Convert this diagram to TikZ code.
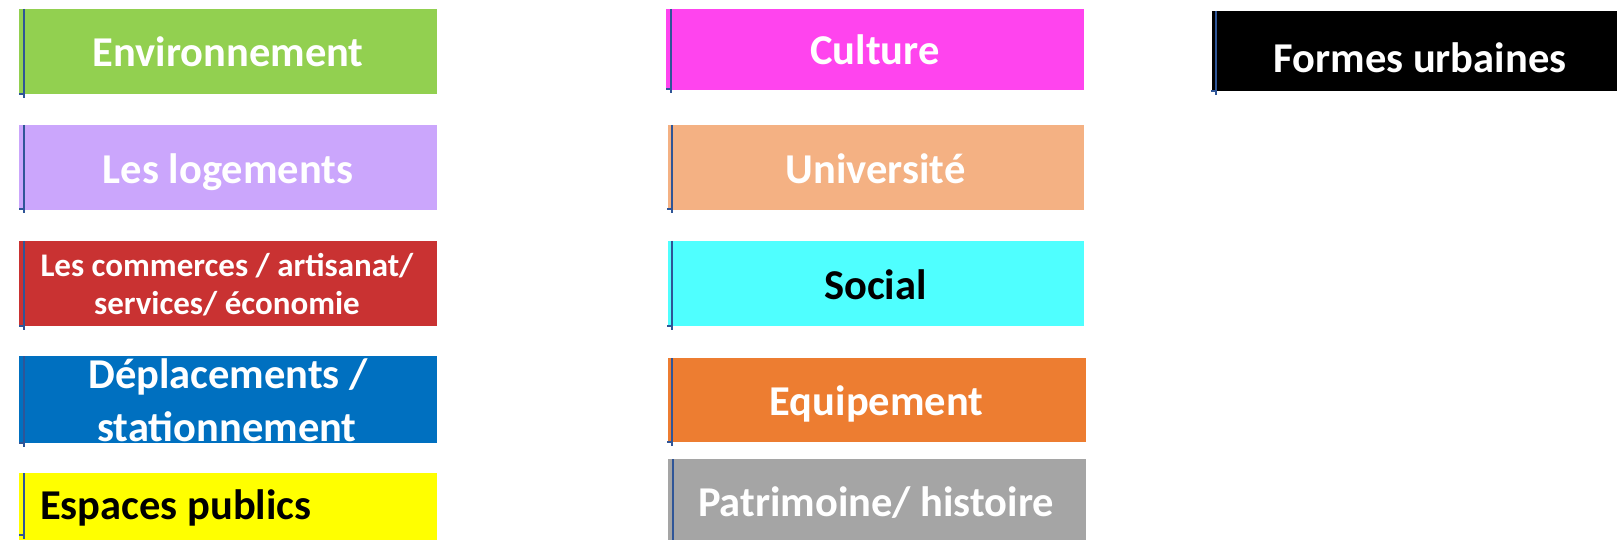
\documentclass[tikz,border=0pt]{standalone}
\usepackage{fontspec}
\setmainfont{Carlito}
\definecolor{cgreen}{HTML}{92D050}
\definecolor{clav}{HTML}{CBA6FC}
\definecolor{cred}{HTML}{C93232}
\definecolor{cblue}{HTML}{0070C0}
\definecolor{cyel}{HTML}{FFFF00}
\definecolor{cmag}{HTML}{FF44EE}
\definecolor{cpeach}{HTML}{F4B183}
\definecolor{ccyan}{HTML}{4FFFFF}
\definecolor{corange}{HTML}{ED7D31}
\definecolor{cgray}{HTML}{A5A5A5}
\definecolor{cline}{HTML}{2F5597}
\tikzset{
  box/.style={draw=none, rectangle, inner sep=0pt, outer sep=0pt},
  lbl/.style={anchor=base, inner sep=0pt, font=\bfseries\fontsize{42.5}{50}\selectfont},
  small/.style={anchor=base, inner sep=0pt, font=\bfseries\fontsize{33}{39}\selectfont},
  edge/.style={draw=cline, line width=2.5pt},
}
\newcommand{\mybox}[6]{% name, x1, y1, x2, y2, color
  \node[box, fill=#6, minimum width={(#4-#2)*1pt}, minimum height={(#5-#3)*1pt}, anchor=north west] (#1) at (#2,#3) {};
}
\newcommand{\myedge}[4]{% name, x, ytop, ybot
  \coordinate (#1t) at (#2,#3);
  \coordinate (#1b) at (#2,#4);
  \coordinate (#1k) at (#2-5,#4-4);
  \draw[edge] (#1t) -- (#1b);
  \draw[edge] (#1k) -- ++(5,0);
}
\begin{document}
\begin{tikzpicture}[x=1pt,y=-1pt]
\useasboundingbox (0,0) rectangle (1617,540);
% left column
\mybox{env}{19}{9}{437}{94}{cgreen}
\mybox{log}{19}{125}{437}{210}{clav}
\mybox{com}{19}{241}{437}{326}{cred}
\mybox{dep}{19}{356}{437}{443}{cblue}
\mybox{esp}{19}{473}{437}{541}{cyel}
% middle column
\mybox{cul}{666}{9}{1084}{90}{cmag}
\mybox{uni}{668}{125}{1084}{210}{cpeach}
\mybox{soc}{668}{241}{1084}{326}{ccyan}
\mybox{equ}{668}{358}{1086}{442}{corange}
\mybox{pat}{668}{459}{1086}{541}{cgray}
% right
\mybox{for}{1212}{11}{1620}{91}{black}
% edge lines
\myedge{a}{24}{9}{98}
\myedge{b}{24}{125}{213}
\myedge{c}{24}{241}{330}
\myedge{d}{24}{356}{447}
\myedge{e}{24}{473}{539}
\myedge{f}{671}{9}{93}
\myedge{g}{672}{125}{213}
\myedge{h}{672}{241}{330}
\myedge{i}{672}{358}{446}
\draw[edge] (673,459) -- (673,541);
\myedge{k}{1216}{11}{95}
% labels
\node[lbl, text=white] (tenv) at (228,66.5) {Environnement};
\node[lbl, text=white] (tlog) at (228,183.5) {Les logements};
\node[small, text=white] (tcom1) at (227,276.5) {Les commerces / artisanat/};
\node[small, text=white] (tcom2) at (227,314.5) {services/ économie};
\node[lbl, text=white] (tdep1) at (228,388.5) {Déplacements /};
\node[lbl, text=white] (tdep2) at (227,441.5) {stationnement};
\node[lbl, text=black, anchor=base west] (tesp) at (40,519.5) {Espaces publics};
\node[lbl, text=white] (tcul) at (875,64.5) {Culture};
\node[lbl, text=white] (tuni) at (875.5,183.5) {Université};
\node[lbl, text=black] (tsoc) at (875.5,299.5) {Social};
\node[lbl, text=white] (tequ) at (876.5,415.5) {Equipement};
\node[lbl, text=white] (tpat) at (876,516.5) {Patrimoine/ histoire};
\node[lbl, text=white] (tfor) at (1420,72.5) {Formes urbaines};
\end{tikzpicture}
\end{document}
